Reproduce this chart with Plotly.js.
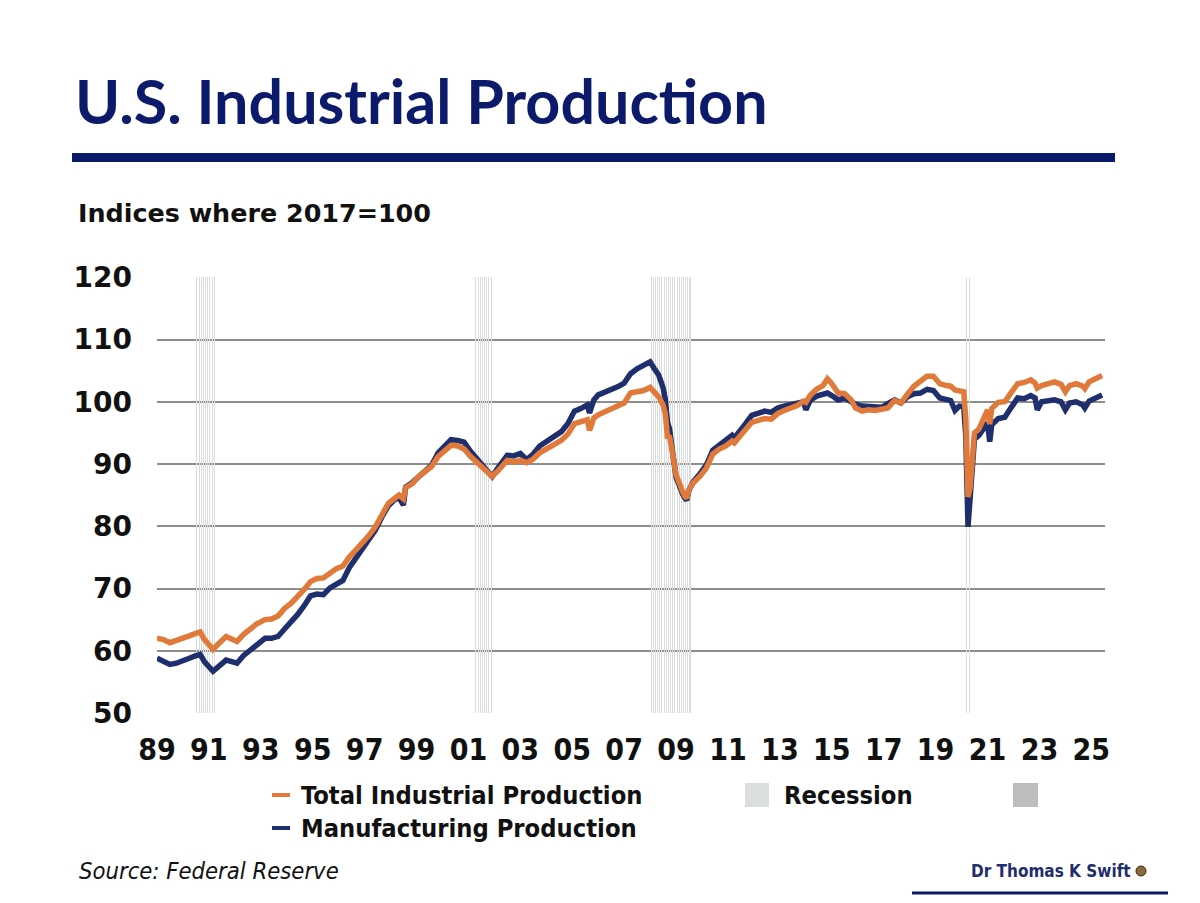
<!DOCTYPE html>
<html><head><meta charset="utf-8">
<script src="https://cdn.plot.ly/plotly-3.0.1.min.js"></script>
<style>html,body{margin:0;padding:0;background:#fff}#chart{width:1200px;height:903px}</style>
</head><body><div id="chart"></div>
<script>
const months = [
'1989-01','1989-04','1989-07','1989-10',
'1990-01','1990-04','1990-07','1990-09','1990-11',
'1991-01','1991-03','1991-06','1991-09','1991-12',
'1992-02','1992-05','1992-08','1992-11',
'1993-03','1993-06','1993-09','1993-12',
'1994-03','1994-06','1994-09','1994-12',
'1995-03','1995-06','1995-09','1995-12',
'1996-03','1996-06','1996-09','1996-12',
'1997-03','1997-06','1997-09','1997-12',
'1998-03','1998-05','1998-07','1998-08','1998-11',
'1999-02','1999-05','1999-08','1999-11',
'2000-02','2000-05','2000-08','2000-11',
'2001-02','2001-05','2001-08','2001-12',
'2002-03','2002-07','2002-10',
'2003-01','2003-04','2003-07','2003-10',
'2004-01','2004-04','2004-08','2004-11',
'2005-02','2005-05','2005-08','2005-09','2005-11',
'2006-01','2006-04','2006-07','2006-10',
'2007-01','2007-04','2007-07','2007-10',
'2008-01','2008-03','2008-05','2008-07','2008-08','2008-09','2008-10','2008-11','2008-12',
'2009-01','2009-02','2009-03','2009-04','2009-05','2009-06','2009-07','2009-09','2009-12',
'2010-03','2010-06','2010-09','2010-12',
'2011-03','2011-04','2011-06','2011-09','2011-12',
'2012-03','2012-06','2012-09','2012-12',
'2013-03','2013-06','2013-09','2013-12',
'2014-01','2014-03','2014-06','2014-09','2014-11',
'2015-01','2015-04','2015-07','2015-10','2015-12',
'2016-03','2016-06','2016-09','2016-12',
'2017-03','2017-06','2017-09','2017-12',
'2018-03','2018-06','2018-09','2018-12',
'2019-03','2019-06','2019-08','2019-10','2019-12',
'2020-02','2020-03','2020-04','2020-05','2020-06','2020-07','2020-09','2020-12',
'2021-01','2021-02','2021-03','2021-06','2021-09','2021-12',
'2022-03','2022-06','2022-09','2022-11','2022-12',
'2023-02','2023-05','2023-08','2023-11',
'2024-01','2024-03','2024-06','2024-09','2024-10','2024-12',
'2025-03','2025-06'
];

const totalIP = [
62.0,61.8,61.3,61.6,
62.1,62.4,62.8,63.0,61.8,
60.8,60.2,61.3,62.3,61.8,
61.5,62.6,63.6,64.3,
65.0,65.1,65.6,66.8,
67.6,68.6,69.8,71.1,
71.6,71.7,72.6,73.2,
73.6,75.1,76.2,77.3,
78.5,79.9,81.8,83.7,
84.5,85.0,84.4,86.2,86.8,
88.0,88.8,89.6,91.2,
92.1,93.0,92.9,92.4,
91.2,90.2,89.1,88.0,
89.0,90.6,90.3,
90.6,90.2,90.8,91.8,
92.3,93.0,93.8,94.8,
96.5,96.7,97.1,95.4,97.4,
97.9,98.4,98.9,99.3,
99.8,101.4,101.6,101.8,
102.3,101.6,100.8,99.5,98.2,94.4,94.3,92.5,90.3,
88.2,87.4,86.2,85.6,84.9,84.5,85.9,87.0,88.0,
89.3,91.6,92.4,92.9,
93.7,93.4,94.3,95.3,96.7,
97.0,97.3,97.2,98.1,
98.6,98.9,99.4,100.1,
99.9,101.0,102.0,102.6,103.7,
102.9,101.4,101.3,100.3,99.0,
98.5,98.7,98.6,98.8,
99.0,100.2,99.8,101.2,
102.5,103.3,104.1,104.1,
102.9,102.6,102.5,101.9,101.8,
101.6,97.3,84.7,86.2,91.8,95.0,95.6,97.8,
98.7,96.4,98.9,99.9,100.0,101.5,
102.9,103.1,103.5,103.0,102.2,
102.6,102.9,103.2,102.8,
101.6,102.6,102.9,102.5,102.1,103.2,
103.7,104.2
];

const manufIP = [
58.8,58.4,57.8,58.0,
58.3,58.8,59.2,59.4,58.2,
57.3,56.7,57.6,58.5,58.2,
58.0,59.2,60.1,61.0,
62.0,62.0,62.3,63.5,
64.5,65.8,67.2,68.8,
69.1,69.0,70.1,70.7,
71.3,73.4,75.0,76.4,
77.8,79.4,81.5,83.3,
84.3,84.6,83.4,86.3,87.0,
88.0,89.0,89.8,91.8,
92.9,93.9,93.8,93.5,
92.0,90.9,89.5,88.0,
89.5,91.4,91.3,
91.7,90.7,91.6,92.9,
93.6,94.3,95.2,96.5,
98.5,98.9,99.5,98.2,100.3,
101.1,101.5,101.9,102.4,
103.0,104.5,105.3,105.9,
106.4,105.3,104.3,102.3,100.5,96.8,95.6,93.0,90.2,
87.8,87.0,85.9,85.2,84.6,84.2,85.8,87.2,88.4,
89.8,92.2,93.0,93.6,
94.6,94.2,95.2,96.4,97.8,
98.2,98.5,98.3,99.0,
99.3,99.5,99.6,100.0,
98.7,100.2,100.9,101.2,101.4,
101.0,100.3,100.6,100.0,99.6,
99.3,99.3,99.2,99.1,
99.7,100.3,99.8,100.8,
101.3,101.4,102.0,101.8,
100.6,100.4,100.2,98.6,99.3,
99.2,94.4,79.9,84.0,90.8,94.0,94.6,96.1,
96.6,93.6,96.3,97.3,97.5,99.1,
100.6,100.5,101.0,100.6,98.7,
100.0,100.2,100.3,100.0,
98.7,99.8,100.0,99.5,99.0,100.1,
100.6,101.1
];

const recessionMonths = [
'1990-07','1990-08','1990-09','1990-10','1990-11','1990-12','1991-01','1991-02','1991-03',
'2001-04','2001-05','2001-06','2001-07','2001-08','2001-09','2001-10','2001-11',
'2008-01','2008-02','2008-03','2008-04','2008-05','2008-06','2008-07','2008-08','2008-09',
'2008-10','2008-11','2008-12','2009-01','2009-02','2009-03','2009-04','2009-05','2009-06','2009-07',
'2020-03','2020-04'
];
const recessionTop = 120;

const xTickVals = ['1989-01-01','1991-01-01','1993-01-01','1995-01-01','1997-01-01','1999-01-01',
  '2001-01-01','2003-01-01','2005-01-01','2007-01-01','2009-01-01','2011-01-01','2013-01-01',
  '2015-01-01','2017-01-01','2019-01-01','2021-01-01','2023-01-01','2025-01-01'];
const xTickText = ['89','91','93','95','97','99','01','03','05','07','09','11','13','15','17','19','21','23','25'];
const yTickVals = [50,60,70,80,90,100,110,120];

const seriesNames = ['Total Industrial Production','Manufacturing Production'];
const NAVY = '#0b1a6b';
const ORANGE = '#e07a3a';
const MANUF = '#1f2e6c';

const L = 157, R = 1105, T = 277, B = 713;
const px = x => (x - L) / (R - L);
const py = y => (B - y) / (B - T);

const NARROW = "'DejaVu Sans Condensed', 'Roboto', sans-serif";

const traces = [
  {
    type: 'bar',
    x: recessionMonths.map(m => m + '-16'),
    y: recessionMonths.map(() => recessionTop),
    base: 0,
    width: recessionMonths.map(() => 15 * 86400000),
    marker: {color: '#d9dcdc', line: {width: 0}},
    hoverinfo: 'skip',
    showlegend: false
  },
  {
    type: 'scatter', mode: 'lines', name: seriesNames[1],
    x: months, y: manufIP,
    line: {color: MANUF, width: 5.5, shape: 'linear'}
  },
  {
    type: 'scatter', mode: 'lines', name: seriesNames[0],
    x: months, y: totalIP,
    line: {color: ORANGE, width: 5.5, shape: 'linear'}
  }
];

const shapes = [
  {type: 'rect', xref: 'paper', yref: 'paper', x0: px(72), x1: px(1115), y0: py(162), y1: py(153),
   fillcolor: NAVY, line: {width: 0}},
  {type: 'line', xref: 'paper', yref: 'paper', x0: px(272), x1: px(290), y0: py(795), y1: py(795),
   line: {color: ORANGE, width: 4}},
  {type: 'line', xref: 'paper', yref: 'paper', x0: px(272), x1: px(290), y0: py(828), y1: py(828),
   line: {color: MANUF, width: 4}},
  {type: 'rect', xref: 'paper', yref: 'paper', x0: px(745), x1: px(769), y0: py(807), y1: py(783),
   fillcolor: '#dadedd', line: {width: 0}},
  {type: 'rect', xref: 'paper', yref: 'paper', x0: px(1013), x1: px(1038), y0: py(807), y1: py(783),
   fillcolor: '#bdbdbd', line: {width: 0}},
  {type: 'line', xref: 'paper', yref: 'paper', x0: px(912), x1: px(1168), y0: py(893), y1: py(893),
   line: {color: NAVY, width: 3}},
  {type: 'circle', xref: 'paper', yref: 'paper', x0: px(1136), x1: px(1146), y0: py(876), y1: py(866),
   fillcolor: '#8a6a3c', line: {color: '#3a2a10', width: 1}}
];

const ann = (text, x, y, font, xanchor) => ({
  text, xref: 'paper', yref: 'paper', x: px(x), y: py(y), xanchor: xanchor || 'left', yanchor: 'middle',
  showarrow: false, font, borderpad: 0
});

const annotations = [
  ann('U.S. Industrial Production', 74, 100, {family: 'Lato, sans-serif', size: 61, color: NAVY, weight: 700}),
  ann('Indices where 2017=100', 77, 213, {family: "'DejaVu Sans', sans-serif", size: 25.4, color: '#111', weight: 700}),
  ann(seriesNames[0], 300, 795, {family: NARROW, size: 25.3, color: '#111', weight: 700}),
  ann(seriesNames[1], 300, 828, {family: NARROW, size: 25.3, color: '#111', weight: 700}),
  ann('Recession', 783, 795, {family: NARROW, size: 25.3, color: '#111', weight: 700}),
  ann('Source: Federal Reserve', 78, 871, {family: NARROW, size: 23.6, color: '#111', style: 'italic'}),
  ann('Dr Thomas K Swift', 1132, 871, {family: NARROW, size: 17, color: '#1f2e6c', weight: 700}, 'right')
];

const layout = {
  width: 1200, height: 903,
  margin: {l: L, r: 1200 - R, t: T, b: 903 - B, pad: 0},
  paper_bgcolor: '#fff', plot_bgcolor: '#fff',
  showlegend: false,
  bargap: 0,
  xaxis: {
    type: 'date', range: ['1989-01-01', '2025-07-12'],
    tickmode: 'array', tickvals: xTickVals, ticktext: xTickText,
    showgrid: false, zeroline: false, showline: false, ticks: '',
    ticklabelstandoff: 16,
    tickfont: {family: NARROW, size: 30, color: '#111', weight: 700}
  },
  yaxis: {
    range: [50, 120.04], tickmode: 'array', tickvals: yTickVals,
    showgrid: true, gridcolor: '#8e8e8e', gridwidth: 2,
    zeroline: false, showline: false, ticks: '',
    ticklabelstandoff: 24,
    tickfont: {family: "'DejaVu Sans', sans-serif", size: 28, color: '#111', weight: 700}
  },
  shapes, annotations
};

Plotly.newPlot('chart', traces, layout, {staticPlot: true, displayModeBar: false});
</script>
</body></html>
